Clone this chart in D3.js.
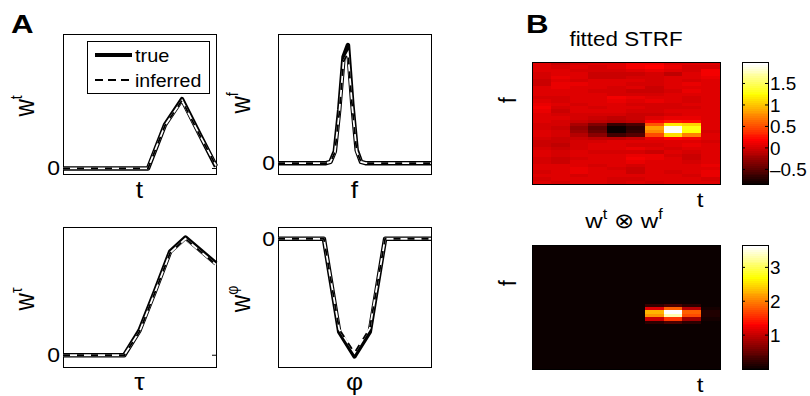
<!DOCTYPE html>
<html>
<head>
<meta charset="utf-8">
<title>STRF figure</title>
<script src="https://cdnjs.cloudflare.com/ajax/libs/d3/7.8.5/d3.min.js"></script>
<style>
body { margin:0; background:#fff; }
text { font-family: "Liberation Sans", Arial, Helvetica, sans-serif; fill:#000; }
</style>
</head>
<body>
<div id="chart"></div>
<script>
// ---- panel A curves (10 time bins, 36 freq bins, 11 tau / phi bins) ----
var wtTrue       = [0, 0, 0, 0, 0, 0, 0.63, 1.00, 0.51, 0.03];
var wtInferred   = [0, 0, 0, 0, 0, 0, 0.62, 0.98, 0.50, 0.04];
var wfTrue       = [0,0,0,0,0,0,0,0,0,0,0,0, 0.01, 0.10, 0.45, 0.90, 1.00, 0.50, 0.11, 0.01, 0,0,0,0,0,0,0,0,0,0,0,0,0,0,0,0];
var wfInferred   = [0,0,0,0,0,0,0,0,0,0,0,0, 0.01, 0.09, 0.42, 0.86, 0.93, 0.47, 0.10, 0.01, 0,0,0,0,0,0,0,0,0,0,0,0,0,0,0,0];
var wtauTrue     = [0, 0, 0, 0, 0, 0.21, 0.54, 0.88, 1.00, 0.89, 0.78];
var wtauInferred = [0, 0, 0, 0, 0, 0.20, 0.53, 0.87, 0.99, 0.88, 0.77];
var wphiTrue     = [0, 0, 0, 0, -0.79, -1.00, -0.79, 0, 0, 0, 0];
var wphiInferred = [0, 0, 0, 0, -0.77, -0.97, -0.76, 0, 0, 0, 0];

// ---- panel B: fitted STRF, rows listed from top (high f) to bottom ----
var strfRows = [
  [0.08, 0.00, 0.04, 0.05, 0.06, 0.18, 0.15, 0.08, 0.06, 0.05],
  [0.06, 0.02, 0.05, 0.04, 0.05, 0.17, 0.20, 0.10, 0.03, 0.02],
  [0.07, 0.08, 0.03, 0.01, 0.03, 0.07, 0.12, 0.05, 0.04, 0.14],
  [0.04, 0.06, 0.05, -0.04, -0.02, -0.03, 0.02, -0.05, 0.06, 0.16],
  [0.02, 0.10, 0.06, -0.02, 0.00, 0.01, 0.04, 0.05, 0.07, 0.10],
  [-0.02, 0.09, 0.04, 0.08, 0.08, 0.05, 0.03, 0.07, 0.04, 0.09],
  [0.00, 0.12, 0.10, 0.07, 0.06, 0.04, 0.02, 0.08, 0.10, 0.06],
  [0.05, 0.11, 0.08, 0.09, 0.02, 0.06, 0.00, 0.07, 0.09, 0.08],
  [0.09, 0.08, 0.07, 0.04, 0.01, -0.02, -0.01, 0.03, 0.12, 0.07],
  [0.06, 0.05, 0.09, 0.05, 0.04, 0.02, 0.01, 0.05, 0.05, 0.06],
  [0.03, 0.04, 0.07, 0.06, 0.15, 0.13, 0.05, 0.06, 0.03, 0.08],
  [0.08, 0.02, 0.05, 0.07, 0.12, 0.09, 0.10, 0.08, 0.04, 0.05],
  [0.10, 0.06, 0.04, 0.05, 0.09, 0.04, 0.03, 0.02, 0.06, 0.07],
  [0.16, 0.03, 0.06, 0.03, 0.05, 0.06, 0.04, 0.01, 0.03, 0.09],
  [0.12, 0.00, 0.08, 0.06, 0.07, 0.04, 0.02, 0.05, 0.07, 0.06],
  [0.05, 0.03, 0.02, 0.04, 0.01, 0.00, -0.02, 0.04, 0.06, 0.05],
  [0.07, 0.05, 0.01, -0.03, -0.05, -0.04, 0.08, 0.12, 0.10, 0.08],
  [0.06, 0.04, 0.00, -0.06, -0.10, -0.08, 0.20, 0.30, 0.25, 0.07],
  [0.04, 0.02, -0.15, -0.35, -0.65, -0.55, 0.55, 1.20, 1.10, 0.05],
  [0.03, 0.00, -0.22, -0.45, -0.84, -0.70, 0.85, 1.95, 1.30, 0.06],
  [0.05, 0.03, -0.20, -0.42, -0.82, -0.65, 0.80, 2.00, 1.25, 0.04],
  [0.08, 0.04, -0.12, -0.30, -0.60, -0.50, 0.50, 1.15, 0.75, 0.08],
  [0.02, 0.00, -0.02, -0.05, -0.08, -0.04, 0.12, 0.20, 0.15, 0.06],
  [0.00, -0.02, 0.03, 0.04, 0.05, 0.06, 0.08, 0.07, 0.05, 0.04],
  [-0.03, -0.05, 0.02, 0.05, 0.06, 0.04, 0.03, 0.09, 0.10, 0.06],
  [0.03, -0.01, 0.04, 0.06, 0.08, 0.10, 0.05, 0.04, 0.07, 0.08],
  [0.06, 0.04, 0.05, 0.04, 0.03, 0.02, 0.00, 0.06, 0.04, 0.05],
  [0.05, 0.02, 0.06, 0.07, 0.05, 0.12, 0.10, 0.03, 0.00, 0.07],
  [0.02, -0.04, 0.04, 0.05, 0.07, 0.15, 0.13, 0.05, -0.02, 0.09],
  [0.04, -0.03, 0.05, 0.06, 0.05, 0.11, 0.08, 0.07, 0.01, 0.08],
  [0.07, 0.05, 0.08, 0.04, 0.06, 0.03, 0.06, 0.09, 0.06, 0.10],
  [0.05, 0.07, 0.12, 0.05, 0.04, -0.02, 0.05, 0.06, 0.05, 0.08],
  [0.04, 0.06, 0.10, 0.06, 0.05, 0.00, 0.07, 0.03, 0.06, 0.12],
  [0.06, 0.05, 0.04, 0.07, 0.06, 0.05, 0.09, 0.05, 0.04, 0.10],
  [0.03, 0.06, 0.08, 0.05, 0.02, 0.04, 0.06, 0.08, 0.05, 0.04],
  [0.05, 0.04, 0.06, 0.07, 0.04, 0.05, 0.03, 0.06, 0.07, 0.06]
];
var strfRange  = [-0.84, 2.0];
var strfTicks  = [-0.5, 0, 0.5, 1, 1.5];
var prodScale  = 4.0;          // w^t (x) w^f amplitude
var prodRange  = [0, 3.66];
var prodTicks  = [1, 2, 3];

var W = 810, H = 396;
var SX = 1.15, FS = 18;   // text in the figure is stretched horizontally

var svg = d3.select("#chart").append("svg")
    .attr("width", W).attr("height", H);

function txt(x, y, s, o) {
  o = o || {};
  var t = svg.append("text")
      .attr("transform", "translate(" + x + "," + y + ") scale(" + (o.sx || SX) + ",1)" + (o.rot ? " rotate(" + o.rot + ")" : ""))
      .attr("text-anchor", o.anchor || "middle")
      .style("font-size", (o.size || FS) + "px");
  if (o.bold) t.style("font-weight", "bold");
  if (typeof s === "string") { t.text(s); return t; }
  // s = [[text, isSup, dropBack], ...]
  var supSize = o.sup || 13;
  s.forEach(function (p) {
    var ts = t.append("tspan").text(p[0]);
    if (p[1]) ts.style("font-size", supSize + "px").attr("dy", -(o.size || FS) * 0.42);
    else if (p[2]) ts.attr("dy", (o.size || FS) * 0.42);
  });
  return t;
}

// ---- panel A ----
var linePanels = [
  {x0: 63, x1: 216, y0: 34, y1: 174, dom: [-0.08, 1.94], tr: wtTrue, inf: wtInferred,
   sup: "t", ylx: 34, yly: 106, xl: "t", xly: 198},
  {x0: 278, x1: 431, y0: 34, y1: 174, dom: [-0.092, 1.093], tr: wfTrue, inf: wfInferred,
   sup: "f", ylx: 250, yly: 103, xl: "f", xly: 198},
  {x0: 63, x1: 216, y0: 227, y1: 367, dom: [-0.1, 1.09], tr: wtauTrue, inf: wtauInferred,
   sup: "\u03c4", ylx: 34, yly: 299, xl: "\u03c4", xly: 390},
  {x0: 278, x1: 431, y0: 227, y1: 367, dom: [-1.09, 0.1], tr: wphiTrue, inf: wphiInferred,
   sup: "\u03c6", ylx: 250, yly: 299, xl: "\u03c6", xly: 390}
];

linePanels.forEach(function (p) {
  var x = d3.scaleLinear().domain([0, p.tr.length - 1]).range([p.x0, p.x1]);
  var y = d3.scaleLinear().domain(p.dom).range([p.y1, p.y0]);
  var line = d3.line().x(function (d, i) { return x(i); }).y(function (d) { return y(d); });

  svg.append("rect").attr("x", p.x0 + 0.5).attr("y", p.y0 + 0.5)
      .attr("width", p.x1 - p.x0).attr("height", p.y1 - p.y0)
      .attr("fill", "none").attr("stroke", "#000").attr("stroke-width", 1);

  var y0 = y(0);
  svg.append("line").attr("x1", p.x0).attr("x2", p.x0 + 4).attr("y1", y0).attr("y2", y0).attr("stroke", "#000");
  svg.append("line").attr("x1", p.x1 - 4).attr("x2", p.x1).attr("y1", y0).attr("y2", y0).attr("stroke", "#000");
  txt(p.x0 - 3, y0 + 7, "0", {anchor: "end", size: 20, sx: 1.15});

  svg.append("path").datum(p.tr).attr("d", line)
      .attr("fill", "none").attr("stroke", "#000").attr("stroke-width", 4.5).attr("stroke-linejoin", "round");
  svg.append("path").datum(p.inf).attr("d", line)
      .attr("fill", "none").attr("stroke", "#fff").attr("stroke-width", 1.8);
  svg.append("path").datum(p.inf).attr("d", line)
      .attr("fill", "none").attr("stroke", "#000").attr("stroke-width", 1.8)
      .attr("stroke-dasharray", "7,7");

  txt(p.ylx, p.yly, [["w"], [p.sup, true]], {rot: -90, size: 24, sup: 14});
  txt((p.x0 + p.x1) / 2, p.xly, p.xl, {size: 23});
});

// legend (top-left axes)
var lg = svg.append("g");
lg.append("rect").attr("x", 87.5).attr("y", 41.5).attr("width", 122).attr("height", 52)
    .attr("fill", "#fff").attr("stroke", "#000");
lg.append("line").attr("x1", 95).attr("x2", 132).attr("y1", 55).attr("y2", 55)
    .attr("stroke", "#000").attr("stroke-width", 4);
lg.append("line").attr("x1", 95).attr("x2", 132).attr("y1", 80).attr("y2", 80)
    .attr("stroke", "#000").attr("stroke-width", 2.2).attr("stroke-dasharray", "8,5");
txt(135, 62, "true", {anchor: "start", size: 19, sx: 1.05});
txt(135, 87, "inferred", {anchor: "start", size: 19, sx: 1.03});

txt(11, 33, "A", {anchor: "start", bold: true, size: 25, sx: 1.25});
txt(526, 33, "B", {anchor: "start", bold: true, size: 25, sx: 1.25});

// ---- panel B ----
function hot(t) {                      // MATLAB hot(64)
  var i = Math.max(0, Math.min(63, Math.floor(t * 64))) + 1;
  var r = Math.min(1, i / 24), g = Math.max(0, Math.min(1, (i - 24) / 24)), b = Math.max(0, (i - 48) / 16);
  return d3.rgb(r * 255, g * 255, b * 255);
}

function heatmap(rows, range, ticks, x0, x1, y0, y1, cx0, cx1, fmt) {
  var nr = rows.length, nc = rows[0].length;
  var xs = d3.scaleBand().domain(d3.range(nc)).range([x0, x1]);
  var ys = d3.scaleBand().domain(d3.range(nr)).range([y0, y1]);
  var c = d3.scaleLinear().domain(range).range([0, 1]).clamp(true);
  var g = svg.append("g").attr("shape-rendering", "crispEdges");
  rows.forEach(function (row, r) {
    g.selectAll(null).data(row).enter().append("rect")
      .attr("x", function (d, i) { return xs(i); })
      .attr("y", ys(r))
      .attr("width", xs.bandwidth() + 1)
      .attr("height", ys.bandwidth() + 1)
      .attr("fill", function (d) { return hot(c(d)); });
  });
  svg.append("rect").attr("x", x0 + 0.5).attr("y", y0 + 0.5).attr("width", x1 - x0).attr("height", y1 - y0)
      .attr("fill", "none").attr("stroke", "#000");

  // colorbar
  var cy = d3.scaleLinear().domain(range).range([y1, y0]);
  var steps = d3.range(64);
  svg.append("g").attr("shape-rendering", "crispEdges")
    .selectAll("rect").data(steps).enter().append("rect")
      .attr("x", cx0)
      .attr("y", function (i) { return y1 - (i + 1) * (y1 - y0) / 64; })
      .attr("width", cx1 - cx0)
      .attr("height", (y1 - y0) / 64 + 1)
      .attr("fill", function (i) { return hot((i + 0.5) / 64); });
  svg.append("rect").attr("x", cx0 + 0.5).attr("y", y0 + 0.5).attr("width", cx1 - cx0).attr("height", y1 - y0)
      .attr("fill", "none").attr("stroke", "#000");
  ticks.forEach(function (t) {
    var yy = cy(t);
    svg.append("line").attr("x1", cx0).attr("x2", cx0 + 3).attr("y1", yy).attr("y2", yy).attr("stroke", "#000");
    svg.append("line").attr("x1", cx1 - 3).attr("x2", cx1).attr("y1", yy).attr("y2", yy).attr("stroke", "#000");
    txt(cx1 + 2, yy + 7, fmt(t), {anchor: "start", size: 18, sx: 1.05});
  });
}

function fmtTick(t) { return t < 0 ? "\u2013" + Math.abs(t) : String(t); }

heatmap(strfRows, strfRange, strfTicks, 532, 720, 62, 184, 742, 768, fmtTick);

// outer product of inferred w^t and w^f, top row = highest f
var prodRows = d3.range(wfInferred.length).map(function (r) {
  var wf = wfInferred[wfInferred.length - 1 - r];
  return wtInferred.map(function (wt) { return prodScale * wt * wf; });
});
heatmap(prodRows, prodRange, prodTicks, 532, 720, 245, 369, 742, 768, fmtTick);

txt(626, 46, "fitted STRF", {size: 20, sx: 1.12});
txt(624, 228, [["w"], ["t", true], [" \u2297 w", false, true], ["f", true]], {size: 21, sup: 14});
txt(516, 100, "f", {rot: -90, size: 21});
txt(516, 283, "f", {rot: -90, size: 21});
txt(700, 207, "t", {size: 21});
txt(700, 392, "t", {size: 21});
</script>
</body>
</html>
